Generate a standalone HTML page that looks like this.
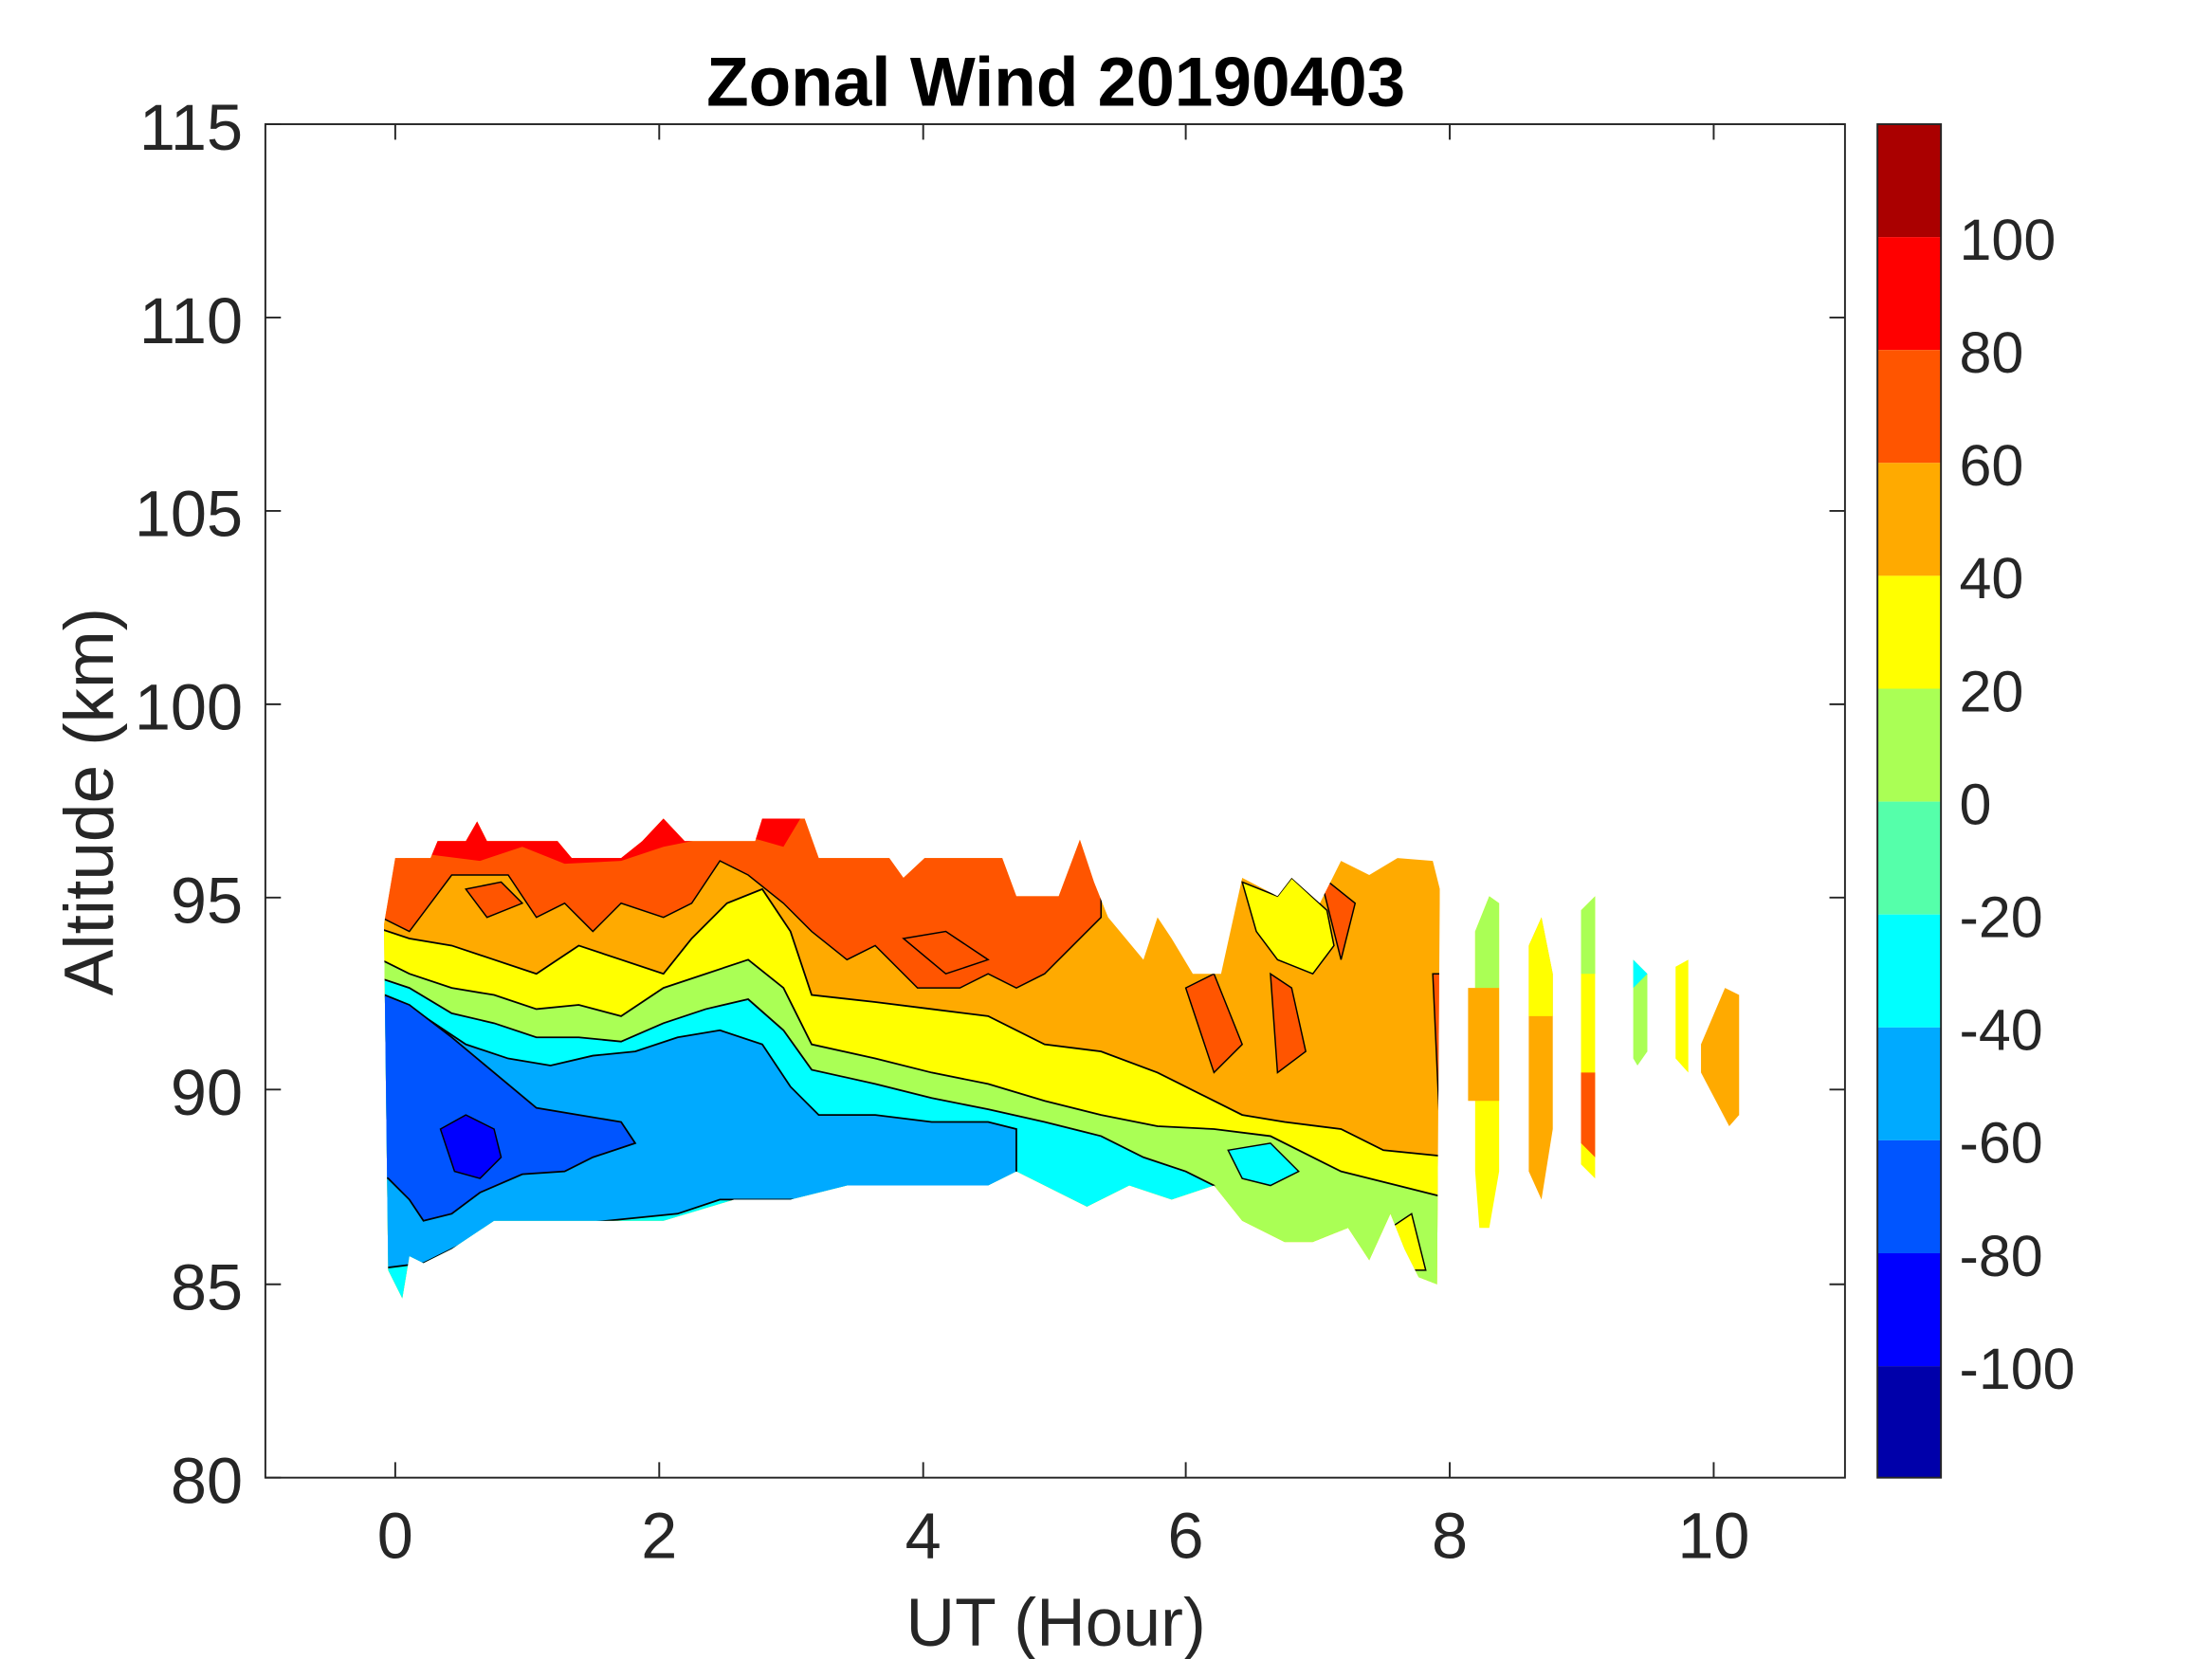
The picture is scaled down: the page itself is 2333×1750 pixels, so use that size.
<!DOCTYPE html>
<html><head><meta charset="utf-8"><style>
html,body{margin:0;padding:0;background:#fff;}
svg{display:block;}
text{font-family:"Liberation Sans",sans-serif;fill:#262626;}
</style></head><body>
<svg width="2333" height="1750" viewBox="0 0 1567 1175.5" preserveAspectRatio="none" xmlns="http://www.w3.org/2000/svg">
<rect width="1567" height="1176" fill="#fff"/>
<defs><clipPath id="env"><path d="M272,655 L280,608 L305,608 L310,596 L330,596 L338,582 L345,596 L395,596 L405,608 L440,608 L455,596 L470,580 L485,596 L535,596 L540,580 L570,580 L580,608 L630,608 L640,622 L655,608 L680,608 L710,608 L720,635 L750,635 L765,595 L775,625 L785,650 L810,680 L820,650 L830,665 L845,690 L865,690 L880,622 L905,635 L915,622 L935,640 L950,610 L970,620 L990,608 L1015,610 L1020,630 L1018,910 L1005,905 L995,885 L985,860 L970,893 L955,870 L930,880 L910,880 L880,865 L860,840 L830,850 L800,840 L770,855 L720,830 L700,840 L650,840 L600,840 L560,850 L520,850 L470,865 L400,865 L350,865 L320,885 L300,895 L290,890 L285,920 L275,900 Z"/></clipPath></defs>
<g clip-path="url(#env)">
<rect x="260" y="570" width="780" height="360" fill="#FFAA00"/>
<path d="M270,570 L780,570 L780,650 L760,670 L740,690 L720,700 L700,690 L680,700 L650,700 L620,670 L600,680 L575,660 L555,640 L530,620 L510,610 L490,640 L470,650 L440,640 L420,660 L400,640 L380,650 L360,620 L320,620 L305,640 L290,660 L270,650 Z" fill="#FF5500" stroke="#000" stroke-width="1"/>
<path d="M270,575 L570,575 L555,600 L520,590 L470,600 L440,610 L400,612 L370,600 L340,610 L300,605 L270,600 Z" fill="#FF0000"/>
<path d="M260,655 L290,665 L320,670 L350,680 L380,690 L410,670 L440,680 L470,690 L490,665 L515,640 L540,630 L560,660 L575,705 L620,710 L660,715 L700,720 L740,740 L780,745 L820,760 L850,775 L880,790 L910,795 L950,800 L980,815 L1030,820 L1030,940 L260,940 Z" fill="#FFFF00" stroke="#000" stroke-width="1.2"/>
<path d="M260,675 L290,690 L320,700 L350,705 L380,715 L410,712 L440,720 L470,700 L500,690 L530,680 L555,700 L575,740 L620,750 L660,760 L700,768 L740,780 L780,790 L820,798 L860,800 L900,805 L950,830 L990,840 L1030,850 L1030,940 L260,940 Z" fill="#AAFF55" stroke="#000" stroke-width="1.2"/>
<path d="M260,690 L290,700 L320,718 L350,725 L380,735 L410,735 L440,738 L470,725 L500,715 L530,708 L555,730 L575,758 L620,768 L660,778 L700,786 L740,795 L780,805 L810,820 L840,830 L860,840 L860,940 L260,940 Z" fill="#00FFFF" stroke="#000" stroke-width="1.2"/>
<path d="M260,700 L300,720 L330,740 L360,750 L390,755 L420,748 L450,745 L480,735 L510,730 L540,740 L560,770 L580,790 L620,790 L660,795 L700,795 L720,800 L720,850 L560,850 L510,850 L480,860 L400,868 L350,870 L320,885 L300,895 L260,900 Z" fill="#00AAFF" stroke="#000" stroke-width="1.2"/>
<path d="M260,700 L290,712 L320,735 L350,760 L380,785 L410,790 L440,795 L450,810 L420,820 L400,830 L370,832 L340,845 L320,860 L300,865 L290,850 L275,835 L260,830 Z" fill="#0055FF" stroke="#000" stroke-width="1.2"/>
<path d="M312,800 L330,790 L350,800 L355,820 L340,835 L322,830 Z" fill="#0000FF" stroke="#000"/>
<path d="M870,815 L900,810 L920,830 L900,840 L880,835 Z" fill="#00FFFF" stroke="#000"/>
<path d="M840,700 L860,690 L880,740 L860,760 Z M900,690 L915,700 L925,745 L905,760 Z M1015,690 L1040,690 L1040,820 L1020,800 Z M935,620 L960,640 L950,680 Z" fill="#FF5500" stroke="#000"/>
<path d="M880,625 L905,635 L915,622 L940,645 L945,670 L930,690 L905,680 L890,660 Z M985,870 L1000,860 L1010,900 L995,900 Z" fill="#FFFF00" stroke="#000"/>
<path d="M640,665 L670,660 L700,680 L670,690 Z M330,630 L355,625 L370,640 L345,650 Z" fill="#FF5500" stroke="#000"/>
</g>
<path d="M1045,660 L1055,635 L1062,640 L1062,830 L1055,870 L1048,870 L1045,830 Z" fill="#FFFF00"/>
<path d="M1045,660 L1055,635 L1062,640 L1062,700 L1045,700 Z" fill="#AAFF55"/>
<path d="M1040,700 L1062,700 L1062,780 L1040,780 Z" fill="#FFAA00"/>
<path d="M1083,670 L1092,650 L1100,690 L1100,800 L1092,850 L1083,830 Z" fill="#FFAA00"/>
<path d="M1083,670 L1092,650 L1100,690 L1100,720 L1083,720 Z" fill="#FFFF00"/>
<path d="M1120,645 L1130,635 L1130,835 L1120,825 Z" fill="#FFFF00"/>
<path d="M1120,645 L1130,635 L1130,690 L1120,690 Z" fill="#AAFF55"/>
<path d="M1120,760 L1130,760 L1130,820 L1120,810 Z" fill="#FF5500"/>
<path d="M1157,680 L1167,690 L1167,745 L1160,755 L1157,750 Z" fill="#AAFF55"/>
<path d="M1157,680 L1167,690 L1157,700 Z" fill="#00FFFF"/>
<path d="M1187,685 L1196,680 L1196,760 L1187,750 Z" fill="#FFFF00"/>
<path d="M1205,740 L1222,700 L1232,705 L1232,790 L1225,798 L1205,760 Z" fill="#FFAA00"/>
<rect x="188" y="88" width="1119" height="959" fill="none" stroke="#262626" stroke-width="1.3"/>
<g stroke="#262626" stroke-width="1.3">
<path d="M280,1047v-11M467,1047v-11M654,1047v-11M840,1047v-11M1027,1047v-11M1214,1047v-11M280,88v11M467,88v11M654,88v11M840,88v11M1027,88v11M1214,88v11"/>
<path d="M188,88h11M188,225h11M188,362h11M188,499h11M188,636h11M188,772h11M188,910h11M188,1047h11M1307,88h-11M1307,225h-11M1307,362h-11M1307,499h-11M1307,636h-11M1307,772h-11M1307,910h-11"/>
</g>
<g font-size="46" text-anchor="end">
<text x="172" y="106">115</text><text x="172" y="243">110</text><text x="172" y="380">105</text><text x="172" y="517">100</text><text x="172" y="654">95</text><text x="172" y="790">90</text><text x="172" y="928">85</text><text x="172" y="1065">80</text>
</g>
<g font-size="46" text-anchor="middle">
<text x="280" y="1104">0</text><text x="467" y="1104">2</text><text x="654" y="1104">4</text><text x="840" y="1104">6</text><text x="1027" y="1104">8</text><text x="1214" y="1104">10</text>
<text x="748" y="1166" font-size="48">UT (Hour)</text>
<text x="748" y="75" font-size="49" font-weight="bold" style="fill:#000">Zonal Wind 20190403</text>
</g>
<text transform="translate(80,568) rotate(-90)" font-size="49" text-anchor="middle">Altitude (km)</text>
<g>
<rect x="1330" y="88" width="45" height="80" fill="#AA0000"/>
<rect x="1330" y="168" width="45" height="80" fill="#FF0000"/>
<rect x="1330" y="248" width="45" height="80" fill="#FF5500"/>
<rect x="1330" y="328" width="45" height="80" fill="#FFAA00"/>
<rect x="1330" y="408" width="45" height="80" fill="#FFFF00"/>
<rect x="1330" y="488" width="45" height="80" fill="#AAFF55"/>
<rect x="1330" y="568" width="45" height="80" fill="#55FFAA"/>
<rect x="1330" y="648" width="45" height="80" fill="#00FFFF"/>
<rect x="1330" y="728" width="45" height="80" fill="#00AAFF"/>
<rect x="1330" y="808" width="45" height="80" fill="#0055FF"/>
<rect x="1330" y="888" width="45" height="80" fill="#0000FF"/>
<rect x="1330" y="968" width="45" height="79" fill="#0000AA"/>
<rect x="1330" y="88" width="45" height="959" fill="none" stroke="#262626" stroke-width="1.3"/>
</g>
<g font-size="41">
<text x="1388" y="184">100</text><text x="1388" y="264">80</text><text x="1388" y="344">60</text><text x="1388" y="424">40</text><text x="1388" y="504">20</text><text x="1388" y="584">0</text><text x="1388" y="664">-20</text><text x="1388" y="744">-40</text><text x="1388" y="824">-60</text><text x="1388" y="904">-80</text><text x="1388" y="984">-100</text>
</g>
</svg>
</body></html>
